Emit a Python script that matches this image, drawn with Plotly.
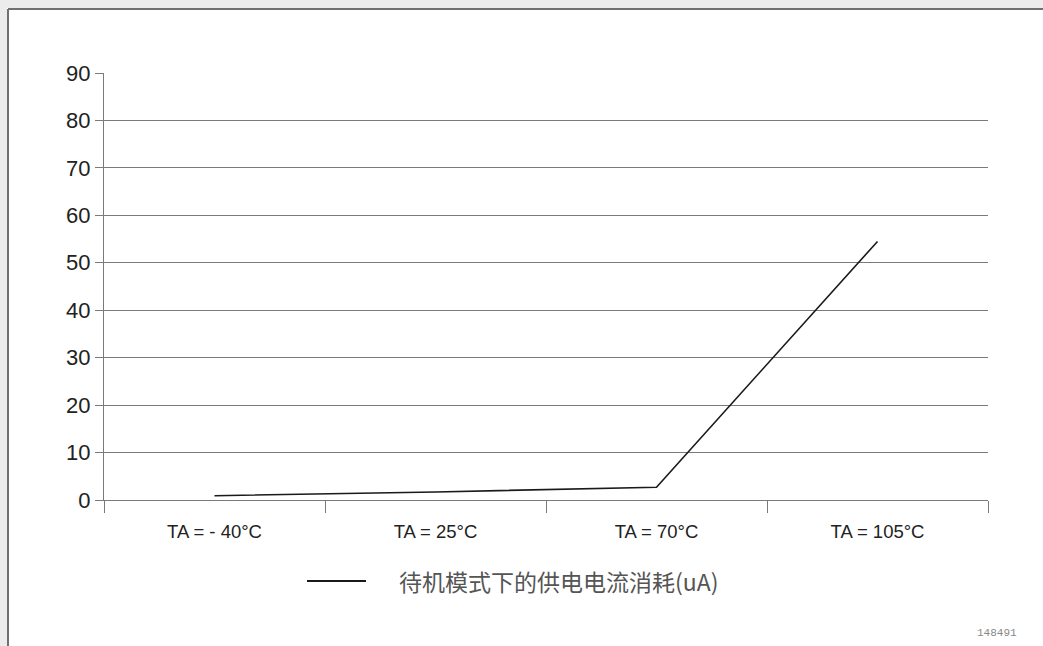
import plotly.graph_objects as go

categories = ["TA = - 40°C", "TA = 25°C", "TA = 70°C", "TA = 105°C"]
current_ua = [0.9, 1.7, 2.7, 54.5]
series_name = "待机模式下的供电电流消耗(uA)"
y_ticks = [0, 10, 20, 30, 40, 50, 60, 70, 80, 90]

W, H = 1043, 646
L, R, T, B = 104, 55, 73, 146
PW, PH = W - L - R, H - T - B

def px(x):
    return (x - L) / PW

def py(y):
    return (H - B - y) / PH

fig = go.Figure()
fig.add_trace(go.Scatter(
    x=categories, y=current_ua, mode="lines", name=series_name,
    line=dict(color="#1a1a1a", width=1.6), showlegend=False,
))

axis_gray = "#7a7a7a"
fig.update_layout(
    width=W, height=H,
    margin=dict(l=L, r=R, t=T, b=B, pad=0),
    paper_bgcolor="white", plot_bgcolor="white",
    showlegend=False,
    xaxis=dict(
        type="category", tickson="boundaries", ticks="outside", ticklen=12,
        tickcolor=axis_gray, tickwidth=1.2, showline=True, linecolor=axis_gray,
        linewidth=1.2, showgrid=False, zeroline=False,
        tickfont=dict(family="Liberation Sans", size=18.5, color="#222222"),
        ticklabelstandoff=15,
        range=[-0.5, 3.5],
    ),
    yaxis=dict(
        range=[0, 90], tickvals=y_ticks, ticks="outside", ticklen=8,
        tickcolor=axis_gray, tickwidth=1.2, showline=True, linecolor=axis_gray,
        linewidth=1.2, showgrid=True, gridcolor=axis_gray, gridwidth=1.2,
        zeroline=False,
        tickfont=dict(family="Liberation Sans", size=22, color="#222222"),
    ),
)

# frame with light shadow
fig.add_shape(type="rect", xref="paper", yref="paper",
              x0=px(0), x1=px(7), y0=py(H + 5), y1=py(0),
              fillcolor="#ececec", line=dict(width=0), layer="above")
fig.add_shape(type="rect", xref="paper", yref="paper",
              x0=px(0), x1=px(W + 5), y0=py(8), y1=py(0),
              fillcolor="#ececec", line=dict(width=0), layer="above")
fig.add_shape(type="line", xref="paper", yref="paper",
              x0=px(8), x1=px(8), y0=py(9), y1=py(H + 5),
              line=dict(color="#707070", width=2))
fig.add_shape(type="line", xref="paper", yref="paper",
              x0=px(8), x1=px(W + 5), y0=py(9), y1=py(9),
              line=dict(color="#707070", width=2))

# legend (sample line + label)
fig.add_shape(type="line", xref="paper", yref="paper",
              x0=px(307), x1=px(366), y0=py(581), y1=py(581),
              line=dict(color="#1a1a1a", width=2))
fig.add_annotation(
    text=series_name, xref="paper", yref="paper", x=px(397), y=py(581),
    xanchor="left", yanchor="middle", showarrow=False,
    font=dict(family="Noto Sans CJK SC", size=23, color="#555555"),
)

fig.add_annotation(
    text="148491", xref="paper", yref="paper", x=px(1019), y=py(633),
    xanchor="right", yanchor="middle", showarrow=False,
    font=dict(family="Liberation Mono", size=11, color="#888888"),
)

fig.write_html("out.html", config={"displayModeBar": False},
               post_script="document.body.style.margin='0';")
